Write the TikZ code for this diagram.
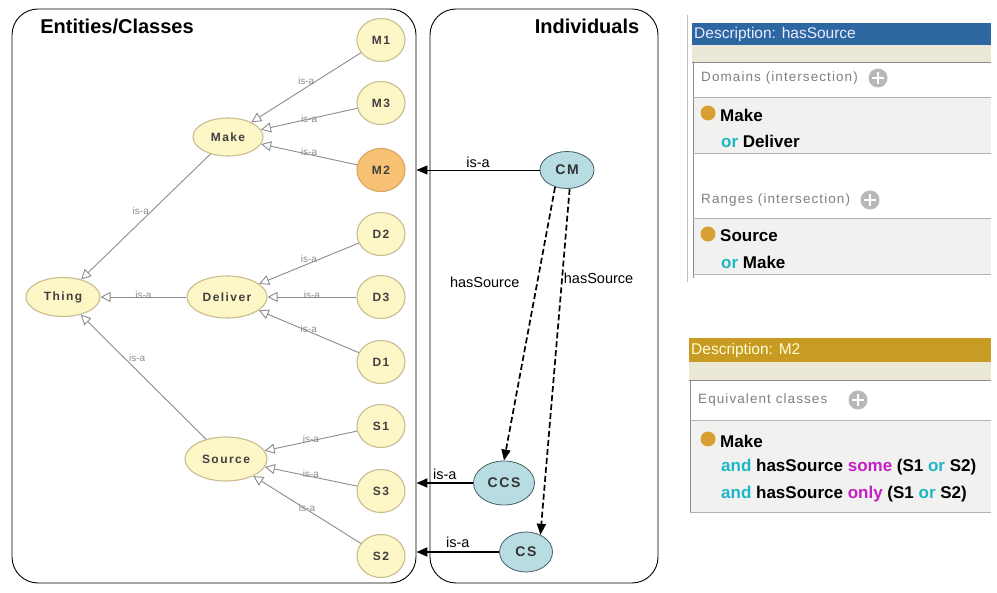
\documentclass[tikz,border=0pt]{standalone}
\usepackage{fontspec}
\setmainfont{Liberation Sans}
\newfontfamily\condf[FakeStretch=1.0]{Liberation Sans}
\newfontfamily\spacedf[LetterSpace=8]{Liberation Sans}
\newfontfamily\widef[LetterSpace=12]{Liberation Sans}
\usetikzlibrary{shapes.geometric,arrows.meta}
\definecolor{clsfill}{HTML}{FDF6C6}
\definecolor{clsdraw}{HTML}{C9BC8E}
\definecolor{mtwofill}{HTML}{F7C274}
\definecolor{mtwodraw}{HTML}{D9A45E}
\definecolor{indfill}{HTML}{B7DCE2}
\definecolor{inddraw}{HTML}{455F66}
\definecolor{isagray}{HTML}{8C8C8C}
\definecolor{hdrblue}{HTML}{2D67A1}
\definecolor{hdrgold}{HTML}{C89B22}
\definecolor{beigebar}{HTML}{ECE8D8}
\definecolor{rowbg}{HTML}{F1F2EF}
\definecolor{kwteal}{HTML}{1FB5C8}
\definecolor{kwmag}{HTML}{C41FC4}
\definecolor{dotorange}{HTML}{D8A032}
\begin{document}
\begin{tikzpicture}[x=1pt,y=-1pt,
  panel/.style={draw=black, line width=0.9pt, rounded corners=26pt, inner sep=0pt},
  title/.style={font=\fontsize{20}{22}\selectfont\bfseries, inner sep=0pt},
  cls/.style={ellipse, draw=clsdraw, fill=clsfill, line width=1.1pt, inner sep=0pt,
     minimum width=48pt, minimum height=43pt, font=\widef\fontsize{12}{13}\selectfont\bfseries, text=black!75},
  bigcls/.style={cls, minimum width=74pt, minimum height=39pt},
  ind/.style={ellipse, draw=inddraw, fill=indfill, line width=0.8pt, inner sep=0pt,
     font=\widef\fontsize{14}{15}\selectfont\bfseries, text=black!80},
  isa/.style={draw=isagray, line width=0.9pt, -{Triangle[open,length=10pt,width=10pt]}},
  isal/.style={font=\fontsize{10}{11}\selectfont, text=isagray, inner sep=1pt},
  iarrow/.style={draw=black, -{Triangle[length=11pt,width=9pt]}},
  ilab/.style={font=\fontsize{14.5}{16}\selectfont, inner sep=1pt},
  hs/.style={draw=black, line width=1.7pt, dash pattern=on 6pt off 3pt, -{Triangle[length=11pt,width=9pt]}},
  hdrtxt/.style={font=\fontsize{15.5}{17}\selectfont, inner sep=0pt, anchor=west},
  sectxt/.style={font=\spacedf\fontsize{13.5}{15}\selectfont, text=black!50, inner sep=0pt, anchor=west},
  body/.style={font=\condf\bfseries\fontsize{17}{19}\selectfont, inner sep=0pt, anchor=west},
  odot/.style={circle, fill=dotorange, minimum size=15pt, inner sep=0pt},
  plusc/.style={circle, fill=black!28, minimum size=19pt, inner sep=0pt}
]
\useasboundingbox (0,0) rectangle (997,593);
\fill[white] (0,0) rectangle (997,593);

% panels
\node[panel, minimum width=404pt, minimum height=574pt] (lp) at (214,296) {};
\node[panel, minimum width=228pt, minimum height=574pt] (rp) at (544,296) {};
\node[title] (t1) at (117,26) {Entities/Classes};
\node[title] (t2) at (587,26) {Individuals};

% classes
\node[bigcls] (Thing) at (63,297) {Thing};
\node[bigcls, minimum width=70pt, minimum height=38pt] (Make) at (228,137) {Make};
\node[bigcls, minimum width=80pt, minimum height=42pt] (Deliver) at (227,297) {Deliver};
\node[bigcls, minimum width=82pt, minimum height=44pt] (Source) at (226,459) {Source};
\node[cls] (M1) at (381,40) {M1};
\node[cls] (M3) at (381,103) {M3};
\node[cls, fill=mtwofill, draw=mtwodraw] (M2) at (381,170) {M2};
\node[cls] (D2) at (381,234) {D2};
\node[cls] (D3) at (381,297) {D3};
\node[cls] (D1) at (381,362) {D1};
\node[cls] (S1) at (381,426) {S1};
\node[cls] (S3) at (381,491) {S3};
\node[cls] (S2) at (381,556) {S2};

\draw[isa] (M1) -- (Make) node[isal, pos=0.5, above=1pt] {is-a};
\draw[isa] (M3) -- (Make) node[isal, pos=0.5] {is-a};
\draw[isa] (M2) -- (Make) node[isal, pos=0.5, above=-3pt] {is-a};
\draw[isa] (D2) -- (Deliver) node[isal, pos=0.5, above=-1pt] {is-a};
\draw[isa] (D3) -- (Deliver) node[isal, pos=0.5, above=-3pt] {is-a};
\draw[isa] (D1) -- (Deliver) node[isal, pos=0.5, above=-3pt] {is-a};
\draw[isa] (S1) -- (Source) node[isal, pos=0.5, above=-3pt] {is-a};
\draw[isa] (S3) -- (Source) node[isal, pos=0.5, above=-3pt] {is-a};
\draw[isa] (S2) -- (Source) node[isal, pos=0.5, above=-3pt] {is-a};
\draw[isa] (Make) -- (Thing) node[isal, pos=0.5, xshift=-5pt, yshift=6pt] {is-a};
\draw[isa] (Deliver) -- (Thing) node[isal, pos=0.5, above=-3pt] {is-a};
\draw[isa] (Source) -- (Thing) node[isal, pos=0.55, above=8pt] {is-a};

% individuals
\node[ind, minimum width=54pt, minimum height=37pt] (CM) at (567,170) {CM};
\node[ind, minimum width=61pt, minimum height=44pt] (CCS) at (504,483) {CCS};
\node[ind, minimum width=53pt, minimum height=40pt] (CS) at (526,552) {CS};

\draw[iarrow, line width=0.9pt] (CM.west) -- (CM.west -| lp.east) node[ilab, midway, above=1pt] {is-a};
\draw[iarrow, line width=1.8pt] (CCS.west) -- (CCS.west -| lp.east) node[ilab, midway, above=1pt] {is-a};
\draw[iarrow, line width=1.8pt] (CS.west) -- (CS.west -| lp.east) node[ilab, midway, above=2pt] {is-a};

\draw[hs] (CM.235) -- (CCS.north) node[ilab, pos=0.35, left=16pt] {hasSource};
\draw[hs] (CM.278) -- (CS.50) node[ilab, pos=0.26, right=0pt] {hasSource};

% ---- Description: hasSource panel
\draw[black!25, line width=0.8pt] (687,15) -- (687,282);
\fill[hdrblue] (692,23) rectangle (991,45);
\node[hdrtxt, text=white!92!blue] (h1) at (694,34) {Description: hasSource};
\fill[beigebar] (692,45) rectangle (991,62);
\draw[black!45, line width=0.8pt] (692,62) -- (991,62);
\draw[black!45, line width=0.8pt] (693,62) -- (693,278);
\node[sectxt] (dom) at (701,78) {Domains (intersection)};
\node[plusc] (p1) at (878,78) {};
\draw[white, line width=2.6pt] (872,78) -- (884,78) (878,72) -- (878,84);
\fill[rowbg] (694,97) rectangle (991,153);
\draw[black!30, line width=0.8pt] (693,97) -- (991,97) (693,153) -- (991,153);
\node[odot] (d1) at (708,113) {};
\node[body] (b1) at (720,115) {Make};
\node[body] (b2) at (721,141) {\textcolor{kwteal}{or} Deliver};
\node[sectxt] (rng) at (701,200) {Ranges (intersection)};
\node[plusc] (p2) at (870,200) {};
\draw[white, line width=2.6pt] (864,200) -- (876,200) (870,194) -- (870,206);
\fill[rowbg] (694,218) rectangle (991,274);
\draw[black!30, line width=0.8pt] (693,218) -- (991,218) (693,274) -- (991,274);
\node[odot] (d2) at (708,234) {};
\node[body] (b3) at (720,236) {Source};
\node[body] (b4) at (721,262) {\textcolor{kwteal}{or} Make};

% ---- Description: M2 panel
\fill[hdrgold] (689,338) rectangle (991,362);
\node[hdrtxt, text=white!85!yellow] (h2) at (691,350) {Description: M2};
\fill[beigebar] (689,362) rectangle (991,380);
\draw[black!45, line width=0.8pt] (689,380) -- (991,380);
\draw[black!45, line width=0.8pt] (690,380) -- (690,512);
\node[sectxt] (eq) at (698,400) {Equivalent classes};
\node[plusc] (p3) at (858,400) {};
\draw[white, line width=2.6pt] (852,400) -- (864,400) (858,394) -- (858,406);
\fill[rowbg] (691,420) rectangle (991,512);
\draw[black!30, line width=0.8pt] (690,420) -- (991,420) (690,512) -- (991,512);
\node[odot] (d3) at (708,439) {};
\node[body] (b5) at (720,441) {Make};
\node[body] (b6) at (721,467) {\textcolor{kwteal}{and} hasSource \textcolor{kwmag}{some} (S1 \textcolor{kwteal}{or} S2)};
\node[body] (b7) at (721,494) {\textcolor{kwteal}{and} hasSource \textcolor{kwmag}{only} (S1 \textcolor{kwteal}{or} S2)};
\end{tikzpicture}
\end{document}
